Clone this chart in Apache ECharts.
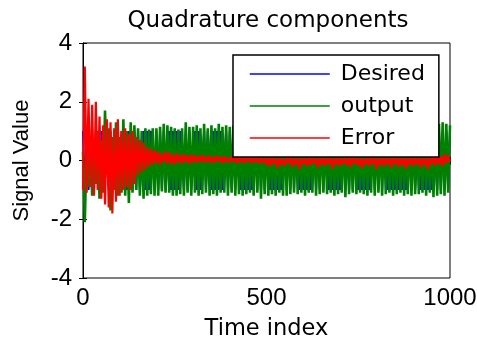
<!DOCTYPE html>
<html>
<head>
<meta charset="utf-8">
<script src="https://cdn.jsdelivr.net/npm/echarts@6/dist/echarts.min.js"></script>
<style>
  html, body { margin: 0; padding: 0; background: #fff; }
  #main { width: 477px; height: 338px; }
</style>
</head>
<body>
<div id="main"></div>
<script>
// samples every 5 time indices, 0..1000
var timeStep = 5;
var xTicks = [0, 500, 1000];
var yTicks = [-4, -2, 0, 2, 4];
var seriesNames = ['Desired', 'output', 'Error'];

var desired = [
  1,-1,1,-1,-1,1,-1,1,1,-1,
  1,-1,1,1,-1,1,-1,-1,1,-1,
  -1,1,-1,1,-1,1,1,-1,1,-1,
  1,-1,-1,1,-1,1,-1,1,1,-1,
  1,-1,1,-1,1,-1,-1,1,-1,1,
  -1,1,-1,1,1,-1,1,-1,1,-1,
  -1,1,-1,1,-1,-1,1,-1,1,1,
  -1,1,-1,1,-1,1,-1,-1,1,-1,
  1,-1,1,-1,1,1,-1,1,-1,1,
  -1,1,-1,-1,1,-1,1,-1,1,-1,
  1,1,-1,1,-1,1,-1,1,-1,-1,
  1,-1,1,-1,1,-1,1,1,-1,1,
  -1,1,-1,1,-1,-1,1,-1,1,-1,
  1,-1,1,1,-1,1,-1,1,-1,1,
  -1,-1,1,-1,1,-1,1,-1,1,1,
  -1,1,-1,1,-1,1,-1,-1,1,-1,
  1,-1,1,-1,1,1,-1,1,-1,1,
  -1,1,-1,1,-1,1,-1,1,1,-1,
  1,-1,-1,1,-1,1,-1,1,-1,1,
  -1,1,1,-1,1,-1,1,-1,1,-1,
  1
];

var output = [
  0.3,-2.1,0.6,-0.9,0.5,-1.2,0.4,-0.8,1.0,-1.3,
  0.7,-1.1,1.7,-0.5,1.1,-1.7,0.8,-1.0,1.3,-1.2,
  0.8,-1.1,1.4,-1.2,1.0,-1.45,1.3,-1.1,1.2,-1.0,
  1.1,-1.2,1.0,-1.3,1.1,-1.2,1.05,-1.15,1.1,-1.2,
  1.1,-1.2,1.15,-1.05,1.25,-1.1,1.2,-1.1,1.15,-1.2,
  1.1,-1.2,1.05,-1.15,1.1,-1.2,1.3,-1.1,1.15,-1.2,
  1.15,-1.1,1.2,-1.2,1.1,-1.15,1.25,-1.1,1.1,-1.2,
  1.2,-1.15,1.1,-1.2,1.25,-1.1,1.15,-1.1,1.2,-1.2,
  1.15,-1.1,1.2,-1.2,1.1,-1.15,1.25,-1.2,1.1,-1.15,
  1.2,-1.1,1.15,-1.2,1.2,-1.1,1.15,-1.3,1.1,-1.15,
  1.1,-1.2,1.2,-1.15,1.1,-1.2,1.25,-1.1,1.15,-1.2,
  1.15,-1.2,1.1,-1.15,1.2,-1.1,1.1,-1.15,1.2,-1.1,
  1.15,-1.2,1.1,-1.1,1.25,-1.1,1.15,-1.2,1.1,-1.15,
  1.2,-1.1,1.1,-1.15,1.2,-1.1,1.15,-1.2,1.1,-1.15,
  1.2,-1.1,1.15,-1.25,1.1,-1.15,1.2,-1.1,1.1,-1.15,
  1.15,-1.1,1.2,-1.15,1.1,-1.2,1.25,-1.1,1.1,-1.2,
  1.15,-1.1,1.2,-1.2,1.1,-1.15,1.2,-1.1,1.25,-1.2,
  1.1,-1.15,1.2,-1.1,1.15,-1.2,1.1,-1.15,1.1,-1.2,
  1.2,-1.15,1.1,-1.15,1.2,-1.1,1.25,-1.2,1.1,-1.1,
  1.15,-1.25,1.3,-1.2,1.25,-1.15,1.3,-1.2,1.25,-1.1,
  1.2
];

var errorSig = [
  -1.0,3.2,-1.1,2.1,-0.9,1.9,-1.2,2.0,-1.0,1.5,
  -1.3,1.2,-1.5,1.4,-1.6,1.3,-1.8,1.1,-1.4,1.4,
  -1.2,1.0,-1.0,1.1,-0.9,0.9,-1.0,1.0,-0.8,0.8,
  -0.5,0.7,-0.4,0.6,-0.3,0.45,-0.2,0.4,-0.15,0.35,
  -0.1,0.3,-0.15,0.25,-0.05,0.3,-0.12,0.28,-0.1,0.2,
  -0.14,0.25,-0.08,0.2,-0.1,0.22,-0.05,0.18,-0.12,0.2,
  -0.06,0.18,-0.08,0.15,-0.04,0.2,-0.07,0.14,-0.05,0.17,
  -0.08,0.12,-0.06,0.16,-0.03,0.13,-0.09,0.15,-0.05,0.1,
  -0.07,0.14,-0.04,0.11,-0.1,0.12,-0.06,0.09,-0.08,0.13,
  -0.05,0.1,-0.09,0.12,-0.06,0.08,-0.1,0.11,-0.07,0.09,
  -0.15,0.1,-0.2,0.12,-0.12,0.08,-0.25,0.1,-0.15,0.06,
  -0.18,0.1,-0.1,0.12,-0.22,0.08,-0.14,0.1,-0.3,0.07,
  -0.12,0.1,-0.2,0.09,-0.16,0.11,-0.1,0.08,-0.24,0.1,
  -0.15,0.12,-0.18,0.07,-0.12,0.1,-0.28,0.09,-0.14,0.11,
  -0.2,0.08,-0.12,0.1,-0.16,0.09,-0.22,0.12,-0.1,0.08,
  -0.18,0.1,-0.26,0.07,-0.14,0.11,-0.2,0.09,-0.12,0.1,
  -0.3,0.08,-0.16,0.12,-0.2,0.1,-0.14,0.09,-0.25,0.11,
  -0.12,0.1,-0.22,0.08,-0.17,0.12,-0.28,0.1,-0.15,0.09,
  -0.2,0.11,-0.13,0.08,-0.24,0.1,-0.16,0.12,-0.3,0.09,
  -0.14,0.2,-0.18,0.25,-0.12,0.15,-0.2,0.22,-0.1,0.18,
  -0.05
];

function toPairs(arr) {
  return arr.map(function (v, i) { return [i * timeStep, v]; });
}

var chart = echarts.init(document.getElementById('main'), null, { renderer: 'canvas' });

var tickFont = 'Liberation Sans, Arial, sans-serif';
var textFont = 'DejaVu Sans, sans-serif';

function lineSeries(name, data, color, width) {
  return {
    name: name, type: 'line', showSymbol: false, symbol: 'none',
    data: toPairs(data),
    lineStyle: { color: color, width: width }, itemStyle: { color: color }
  };
}

var option = {
  animation: false,
  backgroundColor: '#ffffff',
  title: {
    text: 'Quadrature components',
    left: 263,
    textAlign: 'center',
    top: 5,
    textStyle: { fontFamily: textFont, fontSize: 23, fontWeight: 'normal', color: '#000' }
  },
  grid: {
    left: 83, right: 27, top: 43, bottom: 60,
    containLabel: false, outerBoundsMode: 'none',
    show: true, borderColor: '#000', borderWidth: 1, backgroundColor: '#fff'
  },
  legend: {
    orient: 'vertical',
    left: 233, top: 55,
    data: seriesNames,
    backgroundColor: '#fff',
    borderColor: '#000',
    borderWidth: 1.5,
    padding: [8, 14, 8, 16],
    itemWidth: 80,
    itemHeight: 14,
    itemGap: 10,
    itemStyle: { opacity: 0 },
    lineStyle: { width: 1.5 },
    textStyle: { fontFamily: textFont, fontSize: 22, color: '#000', lineHeight: 22, padding: [0, 0, 0, 6] }
  },
  xAxis: [{
    type: 'value', min: xTicks[0], max: xTicks[2], interval: 500,
    name: 'Time index', nameLocation: 'middle', nameGap: 40,
    nameTextStyle: { fontFamily: textFont, fontSize: 22.5, color: '#000' },
    axisLine: { show: true, lineStyle: { color: '#000' } },
    axisTick: { inside: true, length: 4, lineStyle: { color: '#000' } },
    axisLabel: { fontFamily: tickFont, fontSize: 24, color: '#000', margin: 8,
      formatter: function (v) { return String(v); } },
    splitLine: { show: false }
  }, {
    type: 'value', position: 'top', min: xTicks[0], max: xTicks[2], interval: 500,
    axisLine: { show: true, lineStyle: { color: '#000' } },
    axisTick: { inside: true, length: 4, lineStyle: { color: '#000' } },
    axisLabel: { show: false },
    splitLine: { show: false }
  }],
  yAxis: [{
    type: 'value', min: yTicks[0], max: yTicks[4], interval: 2,
    name: 'Signal Value', nameLocation: 'middle', nameGap: 50,
    nameTextStyle: { fontFamily: tickFont, fontSize: 22, color: '#000' },
    axisLine: { show: true, lineStyle: { color: '#000' } },
    axisTick: { inside: true, length: 4, lineStyle: { color: '#000' } },
    axisLabel: { fontFamily: tickFont, fontSize: 24, color: '#000', margin: 11 },
    splitLine: { show: false }
  }, {
    type: 'value', position: 'right', min: yTicks[0], max: yTicks[4], interval: 2,
    axisLine: { show: true, lineStyle: { color: '#000' } },
    axisTick: { inside: true, length: 4, lineStyle: { color: '#000' } },
    axisLabel: { show: false },
    splitLine: { show: false }
  }],
  series: [
    lineSeries(seriesNames[0], desired, '#0000ff', 2),
    lineSeries(seriesNames[1], output, '#008000', 2.6),
    lineSeries(seriesNames[2], errorSig, '#ff0000', 2.2)
  ]
};

chart.setOption(option);
</script>
</body>
</html>
